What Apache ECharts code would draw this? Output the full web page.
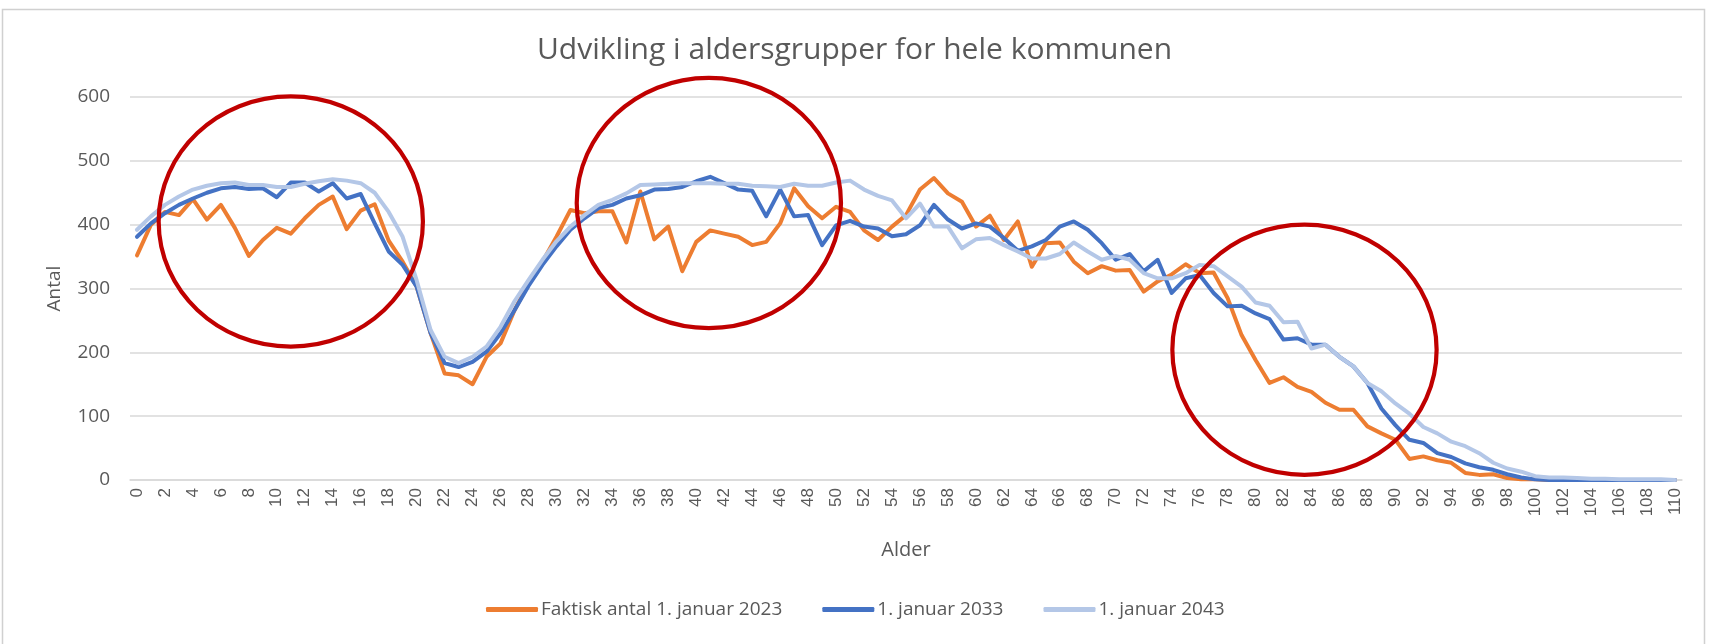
<!DOCTYPE html>
<html>
<head>
<meta charset="utf-8">
<script src="https://cdn.jsdelivr.net/npm/echarts@6/dist/echarts.min.js"></script>
<style>
html,body{margin:0;padding:0;background:#fff;}
#chart{width:1709px;height:644px;}
</style>
</head>
<body>
<div id="chart"></div>
<script>
// ---- Data ----
const ages = Array.from({length: 111}, (_, i) => String(i));
const seriesNames = ['Faktisk antal 1. januar 2023', '1. januar 2033', '1. januar 2043'];
const actual2023 = [
352,400,420,415,440,408,431,395,351,376,
395,386,410,431,444,393,422,432,375,342,
303,230,167,164,150,193,214,266,308,342,
381,423,418,421,421,372,452,377,397,327,
373,391,386,381,368,373,402,457,429,410,
428,420,391,376,397,415,455,473,449,436,
397,414,376,405,334,371,372,342,324,335,
328,329,295,311,322,338,324,325,285,227,
188,152,161,146,138,121,110,110,84,73,
63,33,37,31,27,11,8,9,3,1,
1,0,0,0,0,0,0,0,0,0,
0];
const proj2033 = [
381,402,418,431,441,450,457,459,456,457,
443,466,466,452,465,441,448,402,358,337,
303,230,183,177,185,201,230,266,304,337,
366,392,410,426,431,441,446,455,456,459,
468,475,465,455,453,413,455,413,415,368,
399,406,397,394,382,385,399,431,408,394,
402,397,379,359,366,376,397,405,392,371,
345,354,327,345,293,316,321,293,272,273,
261,252,220,222,212,212,193,178,152,112,
86,63,58,42,36,26,20,16,9,4,
1,0,0,0,0,0,0,0,0,0,
0];
const proj2043 = [
392,413,431,444,455,461,465,466,462,462,
459,459,464,468,471,469,465,450,420,381,
313,235,193,183,193,209,240,280,313,345,
374,397,415,431,439,449,462,463,464,465,
465,465,464,464,461,460,459,464,461,461,
466,469,455,445,438,410,433,397,397,363,
377,379,368,358,347,347,354,372,358,345,
351,345,324,316,316,324,337,335,319,303,
278,273,247,248,206,212,193,178,152,139,
120,104,83,73,60,53,42,27,18,13,
6,4,4,3,2,2,1,1,1,1,
0];
const yTicks = [0, 100, 200, 300, 400, 500, 600];

// Annotation ellipses (in data units: category index, value)
const ellipseCenters = [[11.0, 405], [40.9, 434], [83.5, 204]];
const ellipseRadius = [9.45, 196];

const colors = ['#ED7D31', '#4472C4', '#B4C7E7'];
const txt = '#595959';

const chart = echarts.init(document.getElementById('chart'));
const values = [actual2023, proj2033, proj2043];

chart.setOption({
  animation: false,
  backgroundColor: '#fff',
  title: {
    text: 'Udvikling i aldersgrupper for hele kommunen',
    left: 'center', top: 30,
    textStyle: {fontFamily: 'Open Sans', fontSize: 30, fontWeight: 'normal', color: txt}
  },
  legend: {
    left: 486, top: 600, padding: 0,
    icon: 'roundRect', itemWidth: 52, itemHeight: 5, itemGap: 40,
    textStyle: {fontFamily: 'Open Sans', fontSize: 19, color: txt, padding: [0,0,0,-2]},
    data: seriesNames
  },
  grid: {left: 130, right: 27, top: 97, bottom: 164, containLabel: false},
  xAxis: {
    type: 'category', data: ages, boundaryGap: true,
    name: 'Alder', nameLocation: 'middle', nameGap: 60,
    nameTextStyle: {fontFamily: 'Open Sans', fontSize: 20, color: txt},
    axisLine: {lineStyle: {color: '#d9d9d9', width: 1.5}},
    axisTick: {show: false},
    axisLabel: {rotate: 90, interval: 1, fontFamily: 'Liberation Sans', fontSize: 17, color: txt, margin: 8}
  },
  yAxis: {
    type: 'value', min: yTicks[0], max: yTicks[yTicks.length-1], interval: 100,
    name: 'Antal', nameLocation: 'middle', nameGap: 66,
    nameTextStyle: {fontFamily: 'Open Sans', fontSize: 19, color: txt},
    axisLine: {show: false}, axisTick: {show: false},
    splitLine: {lineStyle: {color: '#d9d9d9', width: 1.5}},
    axisLabel: {fontFamily: 'Open Sans', fontSize: 19, color: txt, margin: 20}
  },
  series: seriesNames.map((n, i) => ({
    name: n, type: 'line', data: values[i], showSymbol: false, symbol: 'none',
    color: colors[i],
    lineStyle: {color: colors[i], width: 4, cap: 'round', join: 'round'},
    z: 2 + i
  }))
});

function addAnnotations() {
  const g = [{
    type: 'rect', shape: {x: 2.5, y: 9.5, width: 1702, height: 650},
    style: {fill: 'none', stroke: '#d0d0d0', lineWidth: 1.5}, z: 0, silent: true
  }];
  const opt = {xAxisIndex: 0, yAxisIndex: 0};
  const a = chart.convertToPixel(opt, [0, 0]);
  const b = chart.convertToPixel(opt, [1, 100]);
  const stepX = b[0] - a[0];
  const perValY = (a[1] - b[1]) / 100;
  ellipseCenters.forEach(c => {
    g.push({
      type: 'ellipse',
      shape: {
        cx: a[0] + c[0] * stepX,
        cy: a[1] - c[1] * perValY,
        rx: ellipseRadius[0] * stepX,
        ry: ellipseRadius[1] * perValY
      },
      style: {fill: 'none', stroke: '#C00000', lineWidth: 4.2},
      z: 100, silent: true
    });
  });
  chart.setOption({graphic: g});
}
addAnnotations();
</script>
</body>
</html>
